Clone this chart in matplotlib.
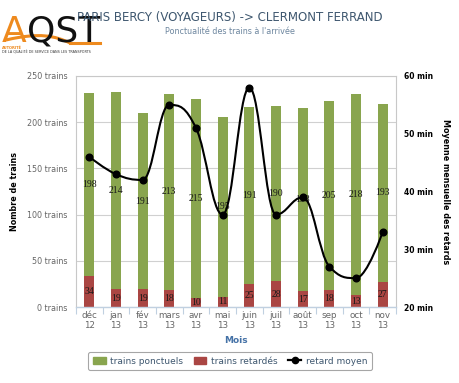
import numpy as np
import matplotlib
matplotlib.use("Agg")
import matplotlib.pyplot as plt
from matplotlib.path import Path
from matplotlib.patches import PathPatch, Patch
from matplotlib.lines import Line2D

# Data
months = ["déc\n12", "jan\n13", "fév\n13", "mars\n13", "avr\n13", "mai\n13",
          "juin\n13", "juil\n13", "août\n13", "sep\n13", "oct\n13", "nov\n13"]
ponctuels = [198, 214, 191, 213, 215, 195, 191, 190, 198, 205, 218, 193]
retardes = [34, 19, 19, 18, 10, 11, 25, 28, 17, 18, 13, 27]
retard_moyen = [46, 43, 42, 55, 51, 36, 58, 36, 39, 27, 25, 33]

green = "#89A54E"
red = "#AA4643"
title_col = "#3E576F"


def spline_path(xs, ys, smoothing=1.5):
    # highcharts-like spline through the points
    n = len(xs)
    left = [None] * n
    right = [None] * n
    d = smoothing + 1
    for i in range(1, n - 1):
        px, py = xs[i], ys[i]
        lx, ly = xs[i - 1], ys[i - 1]
        nx, ny = xs[i + 1], ys[i + 1]
        lcx = (smoothing * px + lx) / d
        lcy = (smoothing * py + ly) / d
        rcx = (smoothing * px + nx) / d
        rcy = (smoothing * py + ny) / d
        corr = ((rcy - lcy) * (rcx - px)) / (rcx - lcx) + py - rcy
        lcy += corr
        rcy += corr
        if lcy > ly and lcy > py:
            lcy = max(ly, py)
            rcy = 2 * py - lcy
        elif lcy < ly and lcy < py:
            lcy = min(ly, py)
            rcy = 2 * py - lcy
        if rcy > ny and rcy > py:
            rcy = max(ny, py)
            lcy = 2 * py - rcy
        elif rcy < ny and rcy < py:
            rcy = min(ny, py)
            lcy = 2 * py - rcy
        left[i] = (lcx, lcy)
        right[i] = (rcx, rcy)
    verts = [(xs[0], ys[0])]
    codes = [Path.MOVETO]
    for i in range(1, n):
        c1 = right[i - 1] if right[i - 1] else (xs[i - 1], ys[i - 1])
        c2 = left[i] if left[i] else (xs[i], ys[i])
        verts += [c1, c2, (xs[i], ys[i])]
        codes += [Path.CURVE4] * 3
    return Path(verts, codes)


fig = plt.figure(figsize=(4.6, 3.83), dpi=100)
ax = fig.add_axes([0.165, 0.1984, 0.696, 0.6032])
x = np.arange(len(months))

ax.bar(x, retardes, width=0.38, color=red, zorder=2)
ax.bar(x, ponctuels, width=0.38, bottom=retardes, color=green, zorder=2)

for i in range(len(x)):
    ax.text(x[i], retardes[i] / 2, str(retardes[i]), ha="center", va="center",
            fontsize=7, family="Liberation Serif", color="#1A1A1A", zorder=3)
    ax.text(x[i], retardes[i] + ponctuels[i] / 2, str(ponctuels[i]), ha="center",
            va="center", fontsize=7, family="Liberation Serif", color="#1A1A1A", zorder=3)

ax.set_xlim(-0.5, len(months) - 0.5)
ax.set_ylim(0, 250)
ax.set_yticks(range(0, 251, 50))
ax.set_yticklabels([f"{v} trains" for v in range(0, 251, 50)], fontsize=5.8, color="#666666")
ax.tick_params(axis="y", length=0, pad=6)
ax.yaxis.grid(True, color="#D0D0D0", lw=0.8, zorder=0)
ax.set_axisbelow(True)

ax.set_xticks(x)
ax.set_xticklabels(months, fontsize=6.3, color="#666666", linespacing=1.05)
ax.set_xticks(np.arange(-0.5, len(months), 1), minor=True)
ax.tick_params(axis="x", which="major", length=0, pad=3)
ax.tick_params(axis="x", which="minor", length=5, color="#C0D0E0", width=0.8)

for s in ["top", "left", "right"]:
    ax.spines[s].set_color("#C8C8C8")
    ax.spines[s].set_linewidth(0.8)
ax.spines["bottom"].set_color("#C0D0E0")
ax.spines["bottom"].set_linewidth(1)

ax.set_xlabel("Mois", fontsize=6.5, fontweight="bold", color="#4572A7", labelpad=5)
ax.set_ylabel("Nombre de trains", fontsize=5.8, fontweight="bold", color="black", labelpad=6)

ax2 = ax.twinx()
ax2.set_ylim(20, 60)
ax2.set_yticks(range(20, 61, 10))
ax2.set_yticklabels([f"{v} min" for v in range(20, 61, 10)], fontsize=5.5,
                    fontweight="bold", color="black")
ax2.tick_params(axis="y", length=0, pad=6)
for s in ax2.spines.values():
    s.set_visible(False)
ax2.set_ylabel("Moyenne mensuelle des retards", fontsize=5.8, fontweight="bold",
               rotation=270, labelpad=12)

path = spline_path(list(x), retard_moyen)
ax2.add_patch(PathPatch(path, fill=False, edgecolor="black", lw=1.5, zorder=4))
ax2.plot(x, retard_moyen, "o", color="black", markersize=4.8, zorder=5)

# titles
fig.text(0.5, 1 - 18 / 383, "PARIS BERCY (VOYAGEURS) -> CLERMONT FERRAND",
         ha="center", va="center", fontsize=8.5, color=title_col, zorder=10)
fig.text(0.5, 1 - 31 / 383, "Ponctualité des trains à l'arrivée",
         ha="center", va="center", fontsize=5.8, color="#6D869F")

# logo
orange = "#EE8A1E"
fig.text(2 / 460, 1 - 42 / 383, "A", fontsize=26, color=orange, va="baseline", ha="left")
fig.text(27 / 460, 1 - 42 / 383, "QST", fontsize=26, color="#111111", va="baseline", ha="left")
sw = Path([(6 / 460, 1 - 40 / 383), (40 / 460, 1 - 32 / 383), (55 / 460, 1 - 36 / 383),
           (70 / 460, 1 - 43 / 383)],
          [Path.MOVETO, Path.CURVE4, Path.CURVE4, Path.CURVE4])
fig.patches.append(PathPatch(sw, fill=False, edgecolor=orange, lw=2.2,
                             transform=fig.transFigure, figure=fig))
fig.add_artist(Line2D([70 / 460, 100 / 460], [1 - 43 / 383, 1 - 43 / 383],
                      color=orange, lw=2.2, transform=fig.transFigure))
fig.text(2 / 460, 1 - 49 / 383, "AUTORITÉ", fontsize=2.6, color=orange, fontweight="bold")
fig.text(2 / 460, 1 - 54 / 383, "DE LA QUALITÉ DE SERVICE DANS LES TRANSPORTS",
         fontsize=2.4, color="#333333")

handles = [Patch(color=green, label="trains ponctuels"),
           Patch(color=red, label="trains retardés"),
           Line2D([], [], color="black", marker="o", markersize=4.5, lw=1.6,
                  label="retard moyen")]
leg = fig.legend(handles=handles, loc="center", bbox_to_anchor=(230 / 460, 1 - 361 / 383),
                 ncol=3, fontsize=6.5, frameon=True, fancybox=True, edgecolor="#909090",
                 handlelength=1.4, handletextpad=0.5, columnspacing=1.2,
                 borderpad=0.5)
for t in leg.get_texts():
    t.set_color(title_col)
leg.get_frame().set_linewidth(0.8)

fig.savefig("out.png", dpi=100)
